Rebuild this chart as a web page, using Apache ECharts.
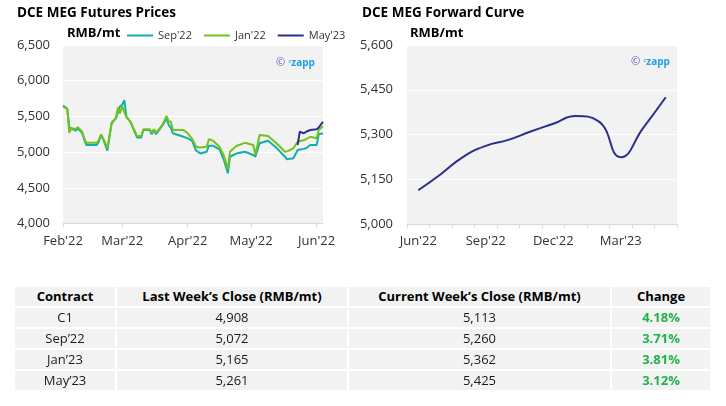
<!DOCTYPE html>
<html>
<head>
<meta charset="utf-8">
<script src="https://cdn.jsdelivr.net/npm/echarts@6/dist/echarts.min.js"></script>
<style>
html,body{margin:0;padding:0;background:#fff;}
#chart{position:absolute;left:0;top:0;width:726px;height:406px;}
#tbl{position:absolute;left:15px;top:287px;width:695px;border-collapse:separate;border-spacing:0;table-layout:fixed;font-family:'Open Sans';font-size:13px;color:#1a1a1a;}
#tbl td{background:#f2f2f2;height:21px;padding:0;text-align:center;border-right:2px solid #fff;border-bottom:2px solid #fff;line-height:19px;box-sizing:border-box;white-space:nowrap;overflow:hidden;}
#tbl td:last-child{border-right:none;}
#tbl tr.h td{font-weight:bold;color:#000;}
#tbl td.chg{font-weight:bold;color:#22b24c;}
</style>
</head>
<body>
<div id="chart"></div>
<table id="tbl"></table>
<script>
// ---------- Futures prices (left chart) ----------
const futDates = ['2022-02-01','2022-02-03','2022-02-04','2022-02-05','2022-02-07','2022-02-08','2022-02-10','2022-02-11','2022-02-12','2022-02-17','2022-02-18','2022-02-19','2022-02-20','2022-02-22','2022-02-24','2022-02-26','2022-02-27','2022-02-28','2022-03-01','2022-03-02','2022-03-03','2022-03-05','2022-03-08','2022-03-10','2022-03-11','2022-03-14','2022-03-15','2022-03-16','2022-03-17','2022-03-20','2022-03-22','2022-03-23','2022-03-24','2022-03-25','2022-03-30','2022-04-01','2022-04-03','2022-04-05','2022-04-07','2022-04-10','2022-04-11','2022-04-13','2022-04-16','2022-04-18','2022-04-20','2022-04-21','2022-04-24','2022-04-28','2022-05-02','2022-05-03','2022-05-04','2022-05-05','2022-05-09','2022-05-13','2022-05-17','2022-05-18','2022-05-21','2022-05-23','2022-05-26','2022-05-27','2022-05-29','2022-06-01','2022-06-02','2022-06-04'];
const sep22 = [5650,5610,5350,5330,5300,5330,5270,5180,5100,5100,5150,5240,5180,5020,5410,5470,5560,5645,5660,5729,5495,5420,5205,5205,5310,5310,5250,5310,5250,5370,5470,5380,5340,5263,5215,5193,5160,5019,4981,5005,5090,5090,5039,4900,4703,4935,4980,5005,4960,4935,5030,5123,5160,5060,4935,4899,4913,5029,5045,5053,5099,5099,5253,5260];
const jan22 = [5640,5600,5270,5340,5320,5350,5290,5200,5130,5130,5170,5250,5190,5060,5400,5480,5627,5543,5645,5560,5495,5420,5225,5225,5320,5320,5270,5320,5270,5380,5505,5430,5430,5310,5310,5263,5190,5075,5066,5075,5180,5160,5075,4960,4760,5005,5085,5130,5099,4965,5099,5240,5225,5123,5005,5010,5053,5146,5169,5180,5215,5193,5310,5362];
const may23Dates = ['2022-05-23','2022-05-24','2022-05-26','2022-05-27','2022-05-29','2022-06-01','2022-06-02','2022-06-04'];
const may23 = [5099,5285,5263,5285,5310,5320,5345,5425];
const futYTicks = {min:4000, max:6500, step:500};

// ---------- Forward curve (right chart) ----------
const fwdMonths = ["Jun'22","Jul'22","Aug'22","Sep'22","Oct'22","Nov'22","Dec'22","Jan'23","Feb'23","Mar'23","Apr'23","May'23"];
const fwdValues = [5113,5167,5225,5262,5282,5310,5336,5362,5345,5224,5322,5425];
const fwdYTicks = {min:5000, max:5600, step:150};

// ---------- Table ----------
const tblHeader = ['Contract',"Last Week\u2019s Close (RMB/mt)","Current Week\u2019s Close (RMB/mt)",'Change'];
const tblContracts = ['C1','Sep\u201922','Jan\u201923','May\u201923'];
const tblLast = ['4,908','5,072','5,165','5,261'];
const tblCurrent = ['5,113','5,260','5,362','5,425'];
const tblChange = ['4.18%','3.71%','3.81%','3.12%'];

// build table
(function(){
  const widths=[102,232,263,98];
  const t=document.getElementById('tbl');
  let html='<tr class="h">'+tblHeader.map((h,i)=>'<td style="width:'+widths[i]+'px">'+h+'</td>').join('')+'</tr>';
  for(let i=0;i<tblContracts.length;i++){
    html+='<tr><td>'+tblContracts[i]+'</td><td>'+tblLast[i]+'</td><td>'+tblCurrent[i]+'</td><td class="chg">'+tblChange[i]+'</td></tr>';
  }
  t.innerHTML=html;
})();

const F = "'Open Sans', sans-serif";
const DAY = 86400000;
const MON = ['Jan','Feb','Mar','Apr','May','Jun','Jul','Aug','Sep','Oct','Nov','Dec'];
const fmtNum = v => Number(v).toLocaleString('en-US');
const zip = (a,b) => a.map((d,i)=>[d,b[i]]);

const chart = echarts.init(document.getElementById('chart'));
const axisGrey = '#d9d9d9';
const labelCol = '#333';
const titleStyle = {fontSize:13.5,fontWeight:'bold',color:'#000',fontFamily:F};
const unitStyle = {fontSize:13,fontWeight:'bold',color:'#000',fontFamily:F};
const wm = {text:'{a|\u00a9} {c|\u1d9c}{b|zapp}', rich:{a:{fill:'#5b5fc7',fontSize:11,fontFamily:F},c:{fill:'#1f9fe4',fontSize:8,fontFamily:F},b:{fill:'#1f9fe4',fontSize:10,fontWeight:'bold',fontFamily:F}}};

chart.setOption({
  animation:false,
  textStyle:{fontFamily:F},
  title:[
    {text:'DCE MEG Futures Prices', left:17, top:6, padding:0, textStyle:titleStyle},
    {text:'RMB/mt', left:67, top:27, padding:0, textStyle:unitStyle},
    {text:'DCE MEG Forward Curve', left:362, top:6, padding:0, textStyle:titleStyle},
    {text:'RMB/mt', left:410, top:27, padding:0, textStyle:unitStyle}
  ],
  legend:{
    left:127, top:30, padding:0, icon:'rect', itemWidth:26, itemHeight:2, itemGap:12,
    textStyle:{fontSize:11,color:labelCol,fontFamily:F},
    data:["Sep'22","Jan'22","May'23"]
  },
  graphic:[
    {type:'text', left:276, top:57, style:wm},
    {type:'text', left:631, top:56, style:wm}
  ],
  grid:[
    {left:63, top:45, width:260, height:178.5, show:true, backgroundColor:'#f2f2f2', borderWidth:0},
    {left:407, top:45, width:270, height:179, show:true, backgroundColor:'#f2f2f2', borderWidth:0}
  ],
  xAxis:[
    {type:'time', gridIndex:0, min:futDates[0], max:futDates[futDates.length-1],
     minInterval:28*DAY, maxInterval:31*DAY,
     splitLine:{show:false},
     axisLine:{lineStyle:{color:axisGrey,width:1}},
     axisTick:{show:true,length:4,lineStyle:{color:axisGrey}},
     axisLabel:{fontSize:13,color:labelCol,margin:11,fontFamily:F,
       formatter:function(v){const d=new Date(v);return MON[d.getMonth()]+"'"+String(d.getFullYear()).slice(2);}}},
    {type:'category', gridIndex:1, data:fwdMonths, boundaryGap:true,
     axisLine:{lineStyle:{color:axisGrey,width:1}},
     axisTick:{show:true,interval:0,length:4,lineStyle:{color:axisGrey}},
     axisLabel:{interval:2,fontSize:13,color:labelCol,margin:11,fontFamily:F}}
  ],
  yAxis:[
    {type:'value', gridIndex:0, min:futYTicks.min, max:futYTicks.max, interval:futYTicks.step,
     axisLine:{show:false}, axisTick:{show:false},
     splitLine:{lineStyle:{color:'#ffffff',width:1}},
     axisLabel:{formatter:fmtNum,fontSize:13,color:labelCol,margin:13,fontFamily:F}},
    {type:'value', gridIndex:1, min:fwdYTicks.min, max:fwdYTicks.max, interval:fwdYTicks.step,
     axisLine:{show:false}, axisTick:{show:false},
     splitLine:{lineStyle:{color:'#ffffff',width:1}},
     axisLabel:{formatter:fmtNum,fontSize:13,color:labelCol,margin:14,fontFamily:F}}
  ],
  series:[
    {name:"Sep'22", type:'line', xAxisIndex:0, yAxisIndex:0, data:zip(futDates,sep22), symbol:'none',
     lineStyle:{width:2,color:'#12aeac'}, itemStyle:{color:'#12aeac'}},
    {name:"Jan'22", type:'line', xAxisIndex:0, yAxisIndex:0, data:zip(futDates,jan22), symbol:'none',
     lineStyle:{width:2,color:'#72c21b'}, itemStyle:{color:'#72c21b'}},
    {name:"May'23", type:'line', xAxisIndex:0, yAxisIndex:0, data:zip(may23Dates,may23), symbol:'none',
     lineStyle:{width:2,color:'#2b2e8a'}, itemStyle:{color:'#2b2e8a'}},
    {name:'Forward', type:'line', xAxisIndex:1, yAxisIndex:1, data:fwdValues, symbol:'none', smooth:0.5,
     lineStyle:{width:2,color:'#2b2e8a'}, itemStyle:{color:'#2b2e8a'}}
  ]
});
</script>
</body>
</html>
